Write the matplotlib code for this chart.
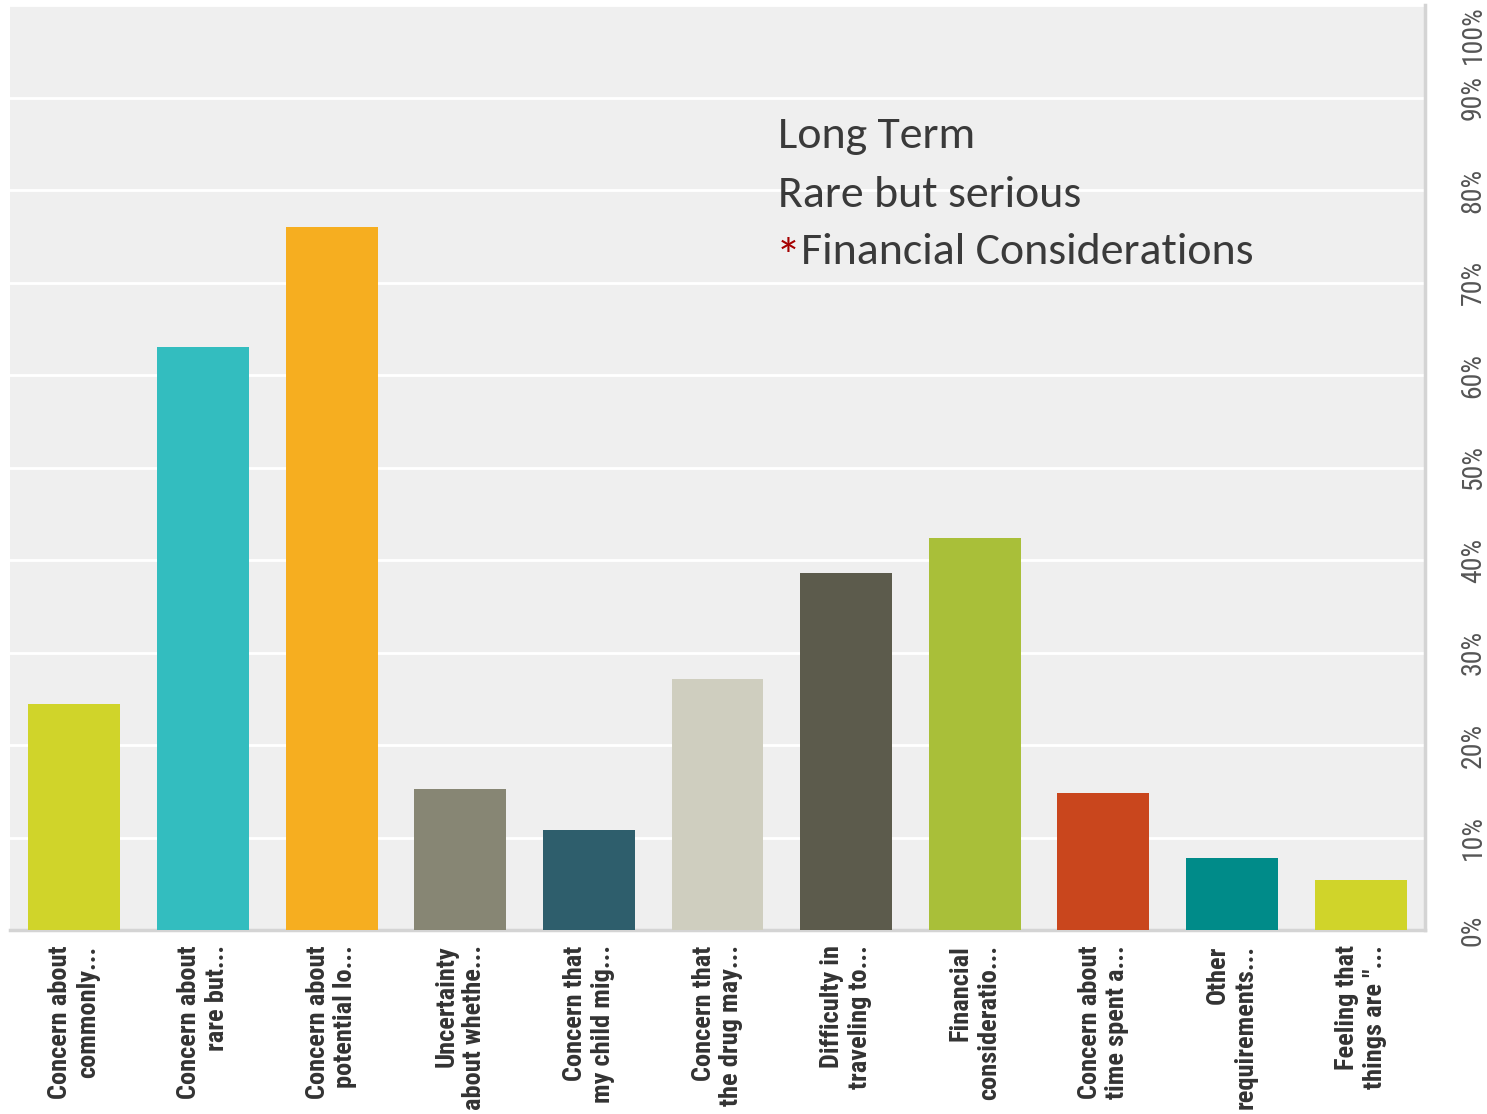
import matplotlib.pyplot as plt
import matplotlib.font_manager as fm
from matplotlib.ticker import FixedLocator

categories = ["Concern about\ncommonly...", "Concern about\nrare but...",
              "Concern about\npotential lo...", "Uncertainty\nabout whethe...",
              "Concern that\nmy child mig...", "Concern that\nthe drug may...",
              "Difficulty in\ntraveling to...", "Financial\nconsideratio...",
              "Concern about\ntime spent a...", "Other\nrequirements...",
              "Feeling that\nthings are \"..."]
values = [24.4, 63.0, 76.0, 15.2, 10.8, 27.1, 38.6, 42.4, 14.8, 7.8, 5.4]
colors = ["#d0d42a", "#33bdbf", "#f6ae20", "#878674", "#2e5e6c", "#cfcebf",
          "#5c5b4c", "#a9bf39", "#c9461d", "#008b89", "#d0d42a"]
y_ticks = list(range(0, 101, 10))
notes = ["Long Term", "Rare but serious", "Financial Considerations"]

installed = {f.name for f in fm.fontManager.ttflist}


def pick(*names):
    for n in names:
        if n in installed:
            return n
    return "DejaVu Sans"


narrow = pick("Roboto Condensed", "Liberation Sans Narrow", "Sofia Sans Condensed",
              "Asap Condensed", "Roboto")
body = pick("Carlito", "Lato", "Open Sans")
narrow_scale = 1.0 if narrow != "Roboto" else 0.85
body_size = 33 if body == "Carlito" else 31.6

fig = plt.figure(figsize=(14.87, 11.14), dpi=100)
ax = fig.add_axes([10 / 1487, 1 - 930 / 1114, 1415 / 1487, 925 / 1114])
ax.set_facecolor("#efefef")

x = range(len(values))
ax.bar(x, values, width=0.715, color=colors, zorder=3)
ax.set_xlim(-0.5, len(values) - 0.5)
ax.set_ylim(0, 100)

ax.yaxis.set_major_locator(FixedLocator(y_ticks))
ax.grid(axis="y", color="white", linewidth=2, zorder=1)
ax.yaxis.tick_right()
ax.set_yticklabels([f"{v}%" for v in y_ticks], rotation=90, va="center",
                   fontsize=20 * narrow_scale, color="#555555", family=narrow)
ax.tick_params(axis="y", length=0, pad=25)
ax.get_yticklabels()[-1].set_va("top")

ax.set_xticks(list(x))
ax.set_xticklabels(categories, rotation=90, ha="center", va="top",
                   multialignment="right", fontsize=19 * narrow_scale,
                   color="#333333", family=narrow, fontweight="bold",
                   linespacing=1.2)
ax.tick_params(axis="x", length=0, pad=11)

for side in ["left", "top"]:
    ax.spines[side].set_visible(False)
for side in ["right", "bottom"]:
    ax.spines[side].set_color("#d4d4d4")
    ax.spines[side].set_linewidth(2.5)

x0 = (778 - 10) / 1415
base = [(930 - 148) / 925, (930 - 207) / 925, (930 - 264) / 925]
note_font = dict(family=body, fontsize=body_size, color="#3a3a3a", va="baseline",
                 transform=ax.transAxes, zorder=5)
ax.text(x0, base[0], notes[0], **note_font)
ax.text(x0, base[1], notes[1], **note_font)
# red asterisk, nudged down to sit like the Calibri one
ax.text(x0 - 0.0015, base[2] - 0.009, "*",
        **{**note_font, "color": "#a50000", "fontsize": body_size * 1.1})
ax.text((801 - 10) / 1415, base[2], notes[2], **note_font)

fig.savefig("out.png", dpi=100)
